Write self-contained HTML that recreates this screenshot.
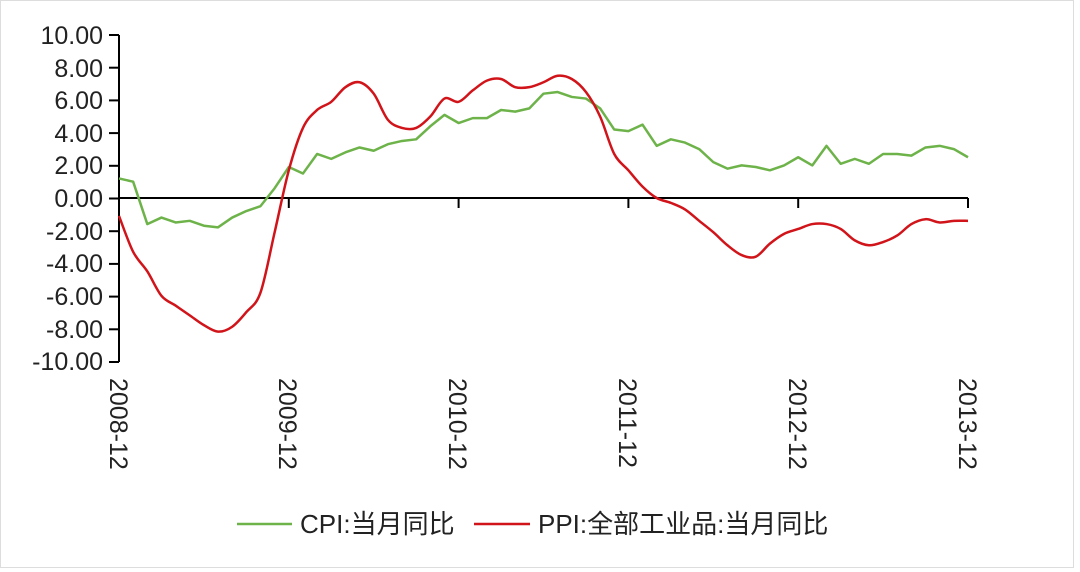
<!DOCTYPE html>
<html><head><meta charset="utf-8"><style>
html,body{margin:0;padding:0;background:#fff}
svg{display:block}
text{font-family:"Liberation Sans","Noto Sans CJK SC",sans-serif;fill:#222}
</style></head><body>
<svg id="s" width="1080" height="572" xmlns="http://www.w3.org/2000/svg">
<rect x="0.5" y="0.5" width="1073" height="567" fill="#fff" stroke="#ddd"/>
<g id="g"></g>
<g font-size="25" text-anchor="end">
<text x="103" y="44">10.00</text><text x="103" y="77">8.00</text><text x="103" y="109">6.00</text>
<text x="103" y="142">4.00</text><text x="103" y="174">2.00</text><text x="103" y="207">0.00</text>
<text x="103" y="240">-2.00</text><text x="103" y="272">-4.00</text><text x="103" y="305">-6.00</text>
<text x="103" y="338">-8.00</text><text x="103" y="370">-10.00</text>
</g>
<g font-size="25">
<text transform="translate(110,378) rotate(90)">2008-12</text>
<text transform="translate(279,378) rotate(90)">2009-12</text>
<text transform="translate(449,378) rotate(90)">2010-12</text>
<text transform="translate(619,378) rotate(90)">2011-12</text>
<text transform="translate(789,378) rotate(90)">2012-12</text>
<text transform="translate(959,378) rotate(90)">2013-12</text>
</g>
<line x1="237" y1="524" x2="292" y2="524" stroke="#6db34a" stroke-width="2.5"/>
<text x="300" y="533" font-size="26">CPI:当月同比</text>
<line x1="474" y1="524" x2="530" y2="524" stroke="#d0141a" stroke-width="2.5"/>
<text x="538" y="533" font-size="26">PPI:全部工业品:当月同比</text>
</svg>
<script>
var cpi=[1.2,1.0,-1.6,-1.2,-1.5,-1.4,-1.7,-1.8,-1.2,-0.8,-0.5,0.6,1.9,1.5,2.7,2.4,2.8,3.1,2.9,3.3,3.5,3.6,4.4,5.1,4.6,4.9,4.9,5.4,5.3,5.5,6.4,6.5,6.2,6.1,5.5,4.2,4.1,4.5,3.2,3.6,3.4,3.0,2.2,1.8,2.0,1.9,1.7,2.0,2.5,2.0,3.2,2.1,2.4,2.1,2.7,2.7,2.6,3.1,3.2,3.0,2.5];
var ppi=[-1.1,-3.3,-4.5,-6.0,-6.6,-7.2,-7.8,-8.2,-7.9,-7.0,-5.8,-2.1,1.7,4.3,5.4,5.9,6.8,7.1,6.4,4.8,4.3,4.3,5.0,6.1,5.9,6.6,7.2,7.3,6.8,6.8,7.1,7.5,7.3,6.5,5.0,2.7,1.7,0.7,0.0,-0.3,-0.7,-1.4,-2.1,-2.9,-3.5,-3.6,-2.8,-2.2,-1.9,-1.6,-1.6,-1.9,-2.6,-2.9,-2.7,-2.3,-1.6,-1.3,-1.5,-1.4,-1.4];
function X(i){return 119+i*(968-119)/60}function Y(v){return 198-v*16.3}
function smooth(a){var p=a.map(function(v,i){return[X(i),Y(v)]});var d="M"+p[0][0]+","+p[0][1];
for(var i=0;i<p.length-1;i++){var p0=p[i-1]||p[i],p1=p[i],p2=p[i+1],p3=p[i+2]||p2;
d+=" C"+(p1[0]+(p2[0]-p0[0])/6)+","+(p1[1]+(p2[1]-p0[1])/6)+" "+(p2[0]-(p3[0]-p1[0])/6)+","+(p2[1]-(p3[1]-p1[1])/6)+" "+p2[0]+","+p2[1];}return d;}
var h='';
h+='<line x1="119" y1="35" x2="119" y2="362" stroke="#000" stroke-width="2"/>';
for(var k=0;k<=10;k++){var y=35+k*32.7;h+='<line x1="109" y1="'+y+'" x2="119" y2="'+y+'" stroke="#000" stroke-width="2"/>';}
h+='<line x1="119" y1="198" x2="968" y2="198" stroke="#000" stroke-width="2"/>';
for(var k=1;k<=5;k++){var x=119+k*169.8;h+='<line x1="'+x+'" y1="198" x2="'+x+'" y2="208" stroke="#000" stroke-width="2"/>';}
h+='<polyline fill="none" stroke="#6db34a" stroke-width="2.5" stroke-linejoin="round" points="'+cpi.map(function(v,i){return X(i)+','+Y(v)}).join(' ')+'"/>';
h+='<path fill="none" stroke="#d0141a" stroke-width="2.5" d="'+smooth(ppi)+'"/>';
document.getElementById('g').innerHTML=h;
</script>
</body></html>
